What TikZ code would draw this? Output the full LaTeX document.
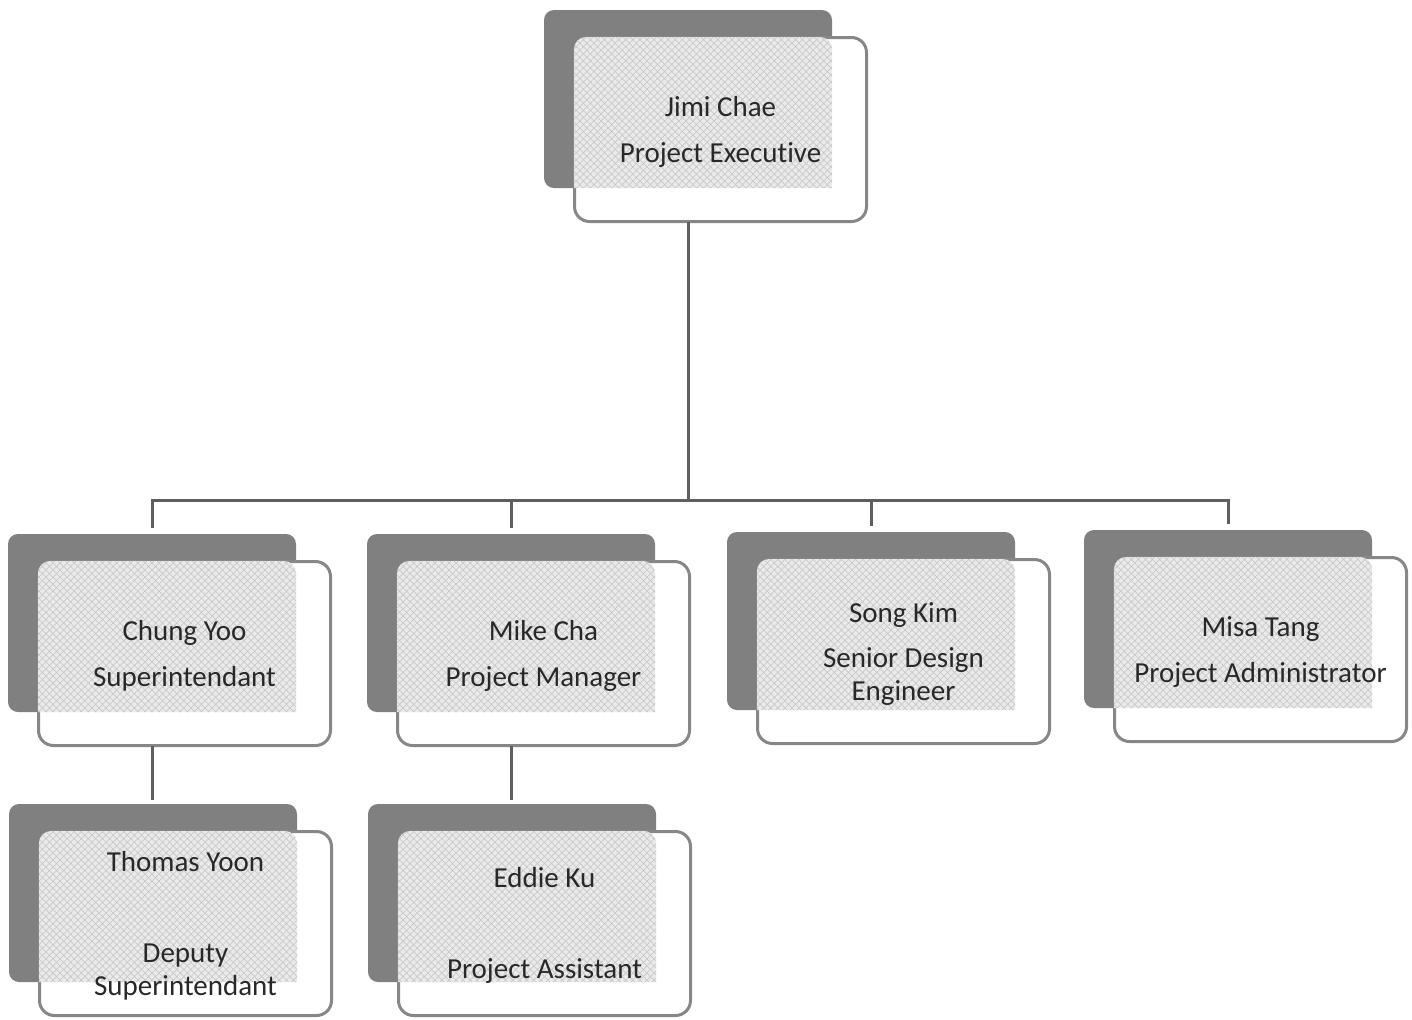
\documentclass[tikz,border=0pt]{standalone}
\usepackage{fontspec}
\setmainfont{Carlito}[Ligatures=NoCommon]
\usetikzlibrary{patterns.meta}
\definecolor{shadowgray}{RGB}{128,128,128}
\definecolor{bordergray}{RGB}{135,135,135}
\definecolor{linegray}{RGB}{95,95,95}
\definecolor{textgray}{RGB}{40,40,40}
\definecolor{hatchbg}{RGB}{234,234,234}
\definecolor{hatchline}{RGB}{200,200,200}
\tikzset{
  shadowbox/.style={fill=shadowgray, draw=none, rounded corners=5pt,
    minimum width=144pt, minimum height=89pt, inner sep=0pt, outer sep=0pt},
  frontbox/.style={fill=white, draw=bordergray, line width=1.5pt, rounded corners=7.5pt,
    minimum width=146pt, minimum height=92pt, inner sep=0pt, outer sep=0pt},
  hatchfill/.style={preaction={fill=hatchbg},
    pattern={Hatch[angle=45,distance=2.5pt,line width=0.35pt]}, pattern color=hatchline},
  orgtext/.style={text=textgray, align=center, font=\fontsize{14.5}{16.5}\selectfont, inner sep=0pt},
  conn/.style={draw=linegray, line width=1.5pt},
}
\newcommand\orgunit[5]{%
  \node[shadowbox, anchor=north west] (#1-sh) at ({#2-29},{#3-26}) {};
  \node[frontbox, anchor=north west] (#1) at ({#2+1.5},{#3+1.5}) {};
  \fill[hatchfill] ({#2+1},{#3+152}) [rounded corners=6pt] -- ({#2+1},{#3+1}) -- ({#2+259},{#3+1})
     [sharp corners] -- ({#2+259},{#3+152}) -- cycle;
  \node[orgtext] (#1-txt) at ([yshift=-1pt]#1.center) {#4};
}
\begin{document}
\begin{tikzpicture}[x=0.5pt,y=-0.5pt]
\useasboundingbox (0,0) rectangle (1412,1019);
\orgunit{jimi}{573}{36}{Jimi Chae\\[6.5pt]Project Executive}{}
\orgunit{chung}{37}{560}{Chung Yoo\\[6.5pt]Superintendant}{}
\orgunit{mike}{396}{560}{Mike Cha\\[6.5pt]Project Manager}{}
\orgunit{song}{756}{558}{Song Kim\\[6pt]Senior Design\\Engineer}{}
\orgunit{misa}{1113}{556}{Misa Tang\\[6.5pt]Project Administrator}{}
\orgunit{thomas}{38}{830}{Thomas Yoon\\[29pt]Deputy\\Superintendant}{}
\orgunit{eddie}{397}{830}{Eddie Ku\\[29pt]Project Assistant}{}
\coordinate (bus) at (0,500);
\draw[conn] (jimi-sh.south |- jimi.south) -- (jimi-sh.south |- bus);
\foreach \c in {chung,mike,song,misa}{
  \draw[conn, shorten >=3pt] (jimi-sh.south |- bus) -| (\c-sh.north);
}
\draw[conn, shorten >=2pt] (chung-sh.south |- chung.south) -- (chung-sh.south |- thomas-sh.north);
\draw[conn, shorten >=2pt] (mike-sh.south |- mike.south) -- (mike-sh.south |- eddie-sh.north);
\end{tikzpicture}
\end{document}
